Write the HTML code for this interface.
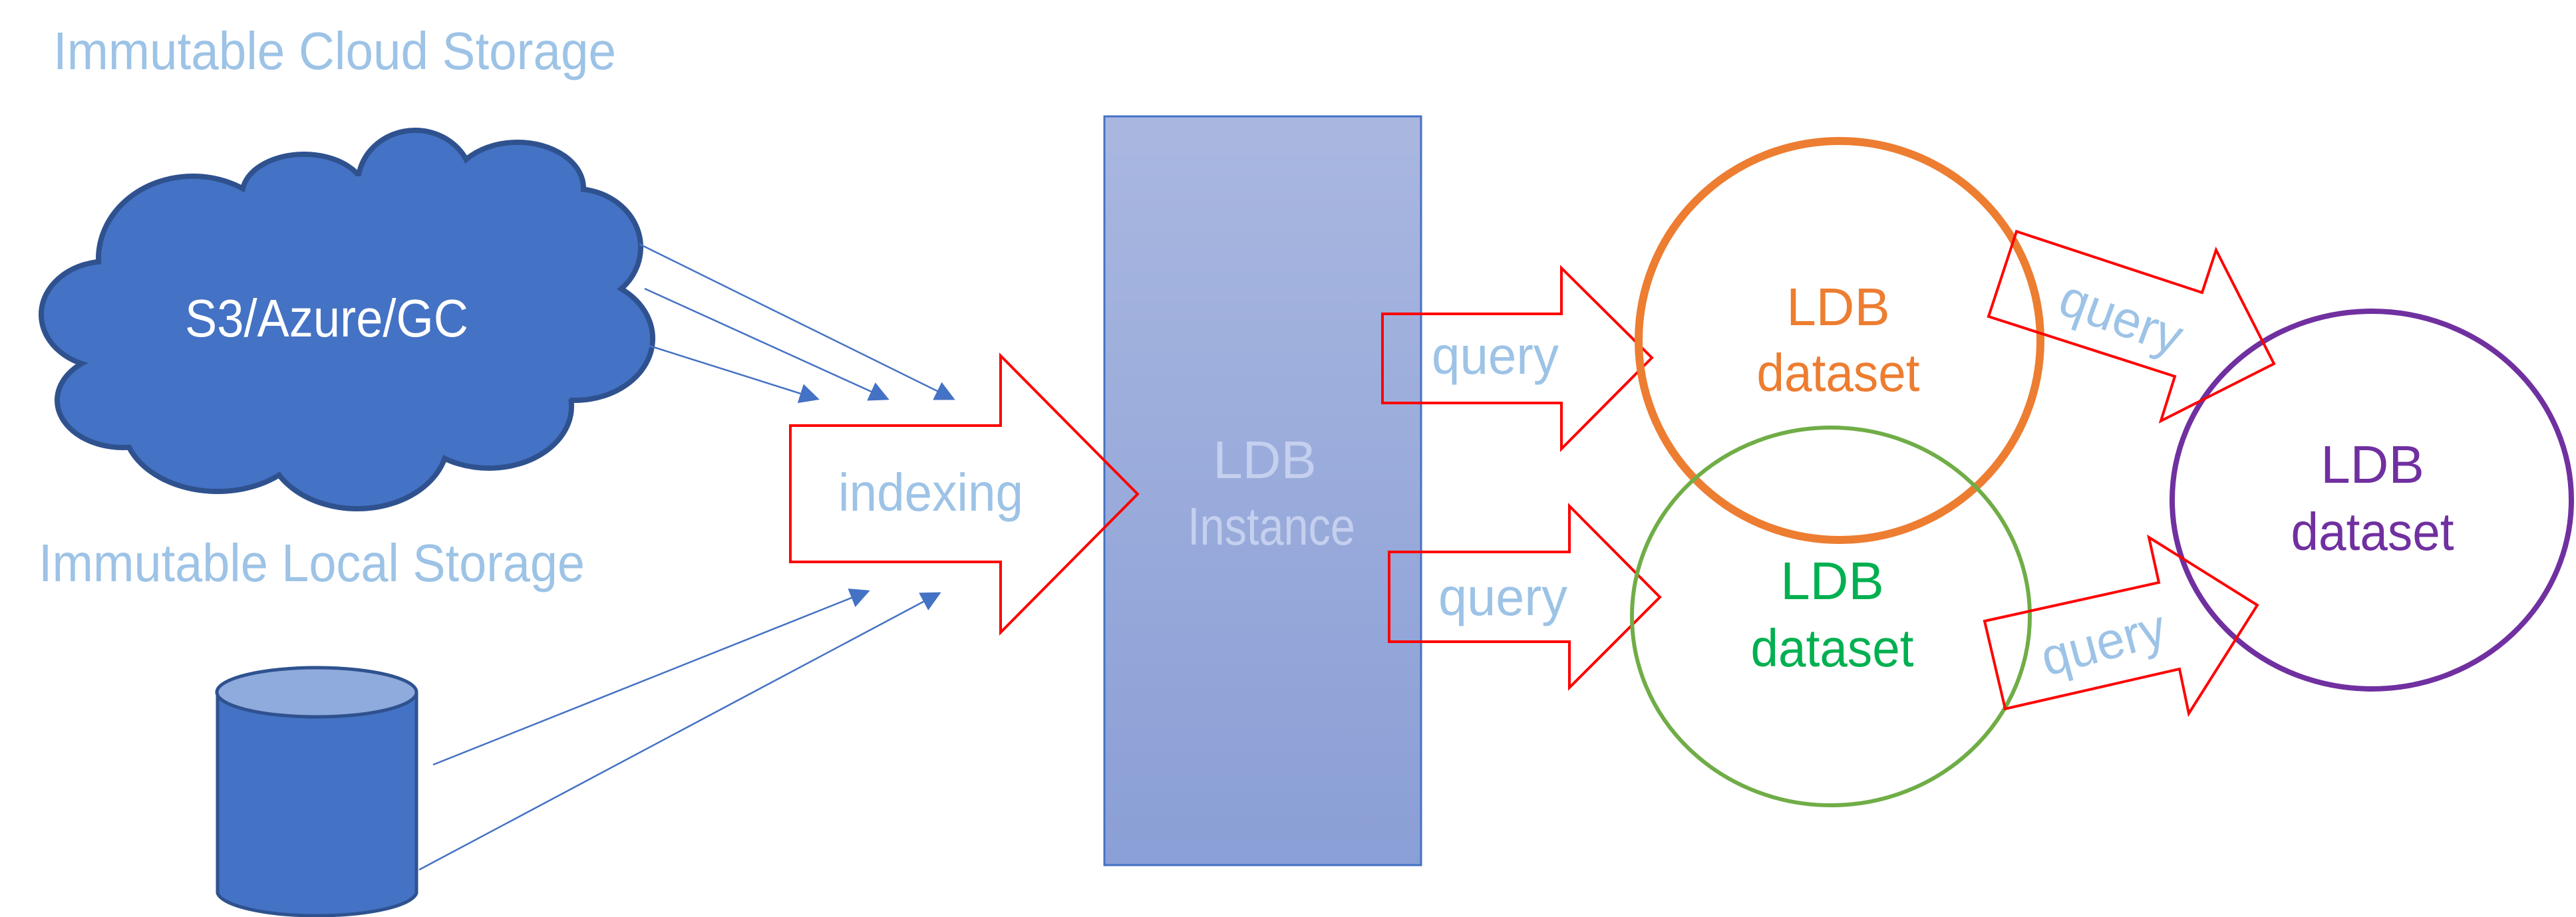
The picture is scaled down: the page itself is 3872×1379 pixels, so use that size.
<!DOCTYPE html>
<html><head><meta charset="utf-8"><style>html,body{margin:0;padding:0;background:#fff;}svg{display:block;}</style></head>
<body>
<svg width="3872" height="1379" viewBox="0 0 3872 1379" xmlns="http://www.w3.org/2000/svg" font-family="Liberation Sans, sans-serif">
<defs>
<linearGradient id="g" x1="0" y1="0" x2="0" y2="1"><stop offset="0" stop-color="#a9b7e0"/><stop offset="1" stop-color="#8a9fd6"/></linearGradient>
<marker id="ah2" viewBox="0 0 10 10" refX="9" refY="5" markerWidth="12" markerHeight="12" orient="auto"><path d="M0,0 L10,5 L0,10 z" fill="#4472c4"/></marker>
</defs>

<text x="80" y="104" font-size="80" fill="#9dc3e6" textLength="846" lengthAdjust="spacingAndGlyphs">Immutable Cloud Storage</text>
<text x="58" y="874" font-size="80" fill="#9dc3e6" textLength="821" lengthAdjust="spacingAndGlyphs">Immutable Local Storage</text>

<!-- cloud -->
<g stroke="#2f528f" stroke-width="8" fill="#4472c4">
<ellipse cx="290" cy="389" rx="142" ry="124"/><ellipse cx="457" cy="292" rx="93" ry="60"/><ellipse cx="624" cy="276" rx="86" ry="80"/><ellipse cx="778" cy="283" rx="99" ry="69"/><ellipse cx="864" cy="372" rx="99" ry="88"/><ellipse cx="864" cy="509" rx="117" ry="93"/><ellipse cx="735" cy="611" rx="124" ry="93"/><ellipse cx="537" cy="663" rx="136" ry="102"/><ellipse cx="327" cy="637" rx="142" ry="102"/><ellipse cx="185" cy="602" rx="99" ry="71"/><ellipse cx="161" cy="473" rx="99" ry="80"/>
</g>
<g fill="#4472c4">
<ellipse cx="290" cy="389" rx="138" ry="120"/><ellipse cx="457" cy="292" rx="89" ry="56"/><ellipse cx="624" cy="276" rx="82" ry="76"/><ellipse cx="778" cy="283" rx="95" ry="65"/><ellipse cx="864" cy="372" rx="95" ry="84"/><ellipse cx="864" cy="509" rx="113" ry="89"/><ellipse cx="735" cy="611" rx="120" ry="89"/><ellipse cx="537" cy="663" rx="132" ry="98"/><ellipse cx="327" cy="637" rx="138" ry="98"/><ellipse cx="185" cy="602" rx="95" ry="67"/><ellipse cx="161" cy="473" rx="95" ry="76"/>
<ellipse cx="540" cy="480" rx="380" ry="215"/>
</g>
<text x="278" y="506" font-size="80" fill="#fff" textLength="426" lengthAdjust="spacingAndGlyphs">S3/Azure/GC</text>

<!-- cylinder -->
<path d="M327,1041 L327,1343 A150,37 0 0 0 626,1343 L626,1041" fill="#4472c4" stroke="#2f528f" stroke-width="5"/>
<ellipse cx="476" cy="1041" rx="150" ry="37" fill="#8faadc" stroke="#2f528f" stroke-width="5"/>

<!-- thin arrows -->
<g stroke="#4472c4" stroke-width="2.5" fill="none" marker-end="url(#ah2)">
<line x1="961" y1="367" x2="1433" y2="600"/>
<line x1="969" y1="434" x2="1334" y2="600"/>
<line x1="976" y1="520" x2="1229" y2="600"/>
<line x1="651" y1="1150" x2="1305" y2="889"/>
<line x1="630" y1="1308" x2="1412" y2="892"/>
</g>

<!-- instance -->
<rect x="1660" y="175" width="476" height="1126" fill="url(#g)" stroke="#4472c4" stroke-width="3"/>
<text x="1901" y="719" font-size="80" fill="#c4d0ee" text-anchor="middle">LDB</text>
<text x="1911" y="819" font-size="80" fill="#c4d0ee" text-anchor="middle" textLength="252" lengthAdjust="spacingAndGlyphs">Instance</text>

<!-- indexing arrow -->
<polygon points="1188,640 1504,640 1504,535 1710,743 1504,951 1504,845 1188,845" fill="none" stroke="#ff0000" stroke-width="4"/>
<text x="1260" y="768" font-size="80" fill="#9dc3e6" textLength="278" lengthAdjust="spacingAndGlyphs">indexing</text>

<!-- query arrows -->
<polygon points="2078,472 2347,472 2347,403 2483,538 2347,675 2347,606 2078,606" fill="none" stroke="#ff0000" stroke-width="4"/>
<text x="2152" y="562" font-size="80" fill="#9dc3e6" textLength="191" lengthAdjust="spacingAndGlyphs">query</text>
<polygon points="2088,830 2359,830 2359,761 2495,898 2359,1034 2359,965 2088,965" fill="none" stroke="#ff0000" stroke-width="4"/>
<text x="2162" y="925" font-size="80" fill="#9dc3e6" textLength="194" lengthAdjust="spacingAndGlyphs">query</text>

<!-- circles -->
<ellipse cx="2765" cy="512" rx="302" ry="300" fill="none" stroke="#ed7d31" stroke-width="12"/>
<ellipse cx="2752" cy="927" rx="299" ry="284" fill="none" stroke="#70ad47" stroke-width="6"/>
<ellipse cx="3565" cy="752" rx="300" ry="284" fill="none" stroke="#7030a0" stroke-width="8"/>

<text x="2763" y="489" font-size="80" fill="#ed7d31" text-anchor="middle">LDB</text>
<text x="2763" y="588" font-size="80" fill="#ed7d31" text-anchor="middle" textLength="245" lengthAdjust="spacingAndGlyphs">dataset</text>
<text x="2754" y="901" font-size="80" fill="#00b050" text-anchor="middle">LDB</text>
<text x="2754" y="1002" font-size="80" fill="#00b050" text-anchor="middle" textLength="245" lengthAdjust="spacingAndGlyphs">dataset</text>
<text x="3566" y="726" font-size="80" fill="#7030a0" text-anchor="middle">LDB</text>
<text x="3566" y="827" font-size="80" fill="#7030a0" text-anchor="middle" textLength="245" lengthAdjust="spacingAndGlyphs">dataset</text>

<!-- diagonal arrows -->
<polygon points="3031,348 3310,440 3331,376 3418,547 3248,633 3269,566 2989,476" fill="none" stroke="#ff0000" stroke-width="4"/>
<text x="3093" y="502" font-size="78" fill="#9dc3e6" transform="rotate(20 3183 478)" textLength="190" lengthAdjust="spacingAndGlyphs">query</text>
<polygon points="2983,934 3245,876 3230,808 3393,910 3290,1073 3276,1006 3014,1066" fill="none" stroke="#ff0000" stroke-width="4"/>
<text x="3067" y="993" font-size="78" fill="#9dc3e6" transform="rotate(-15 3162 969)" textLength="190" lengthAdjust="spacingAndGlyphs">query</text>
</svg>
</body></html>
